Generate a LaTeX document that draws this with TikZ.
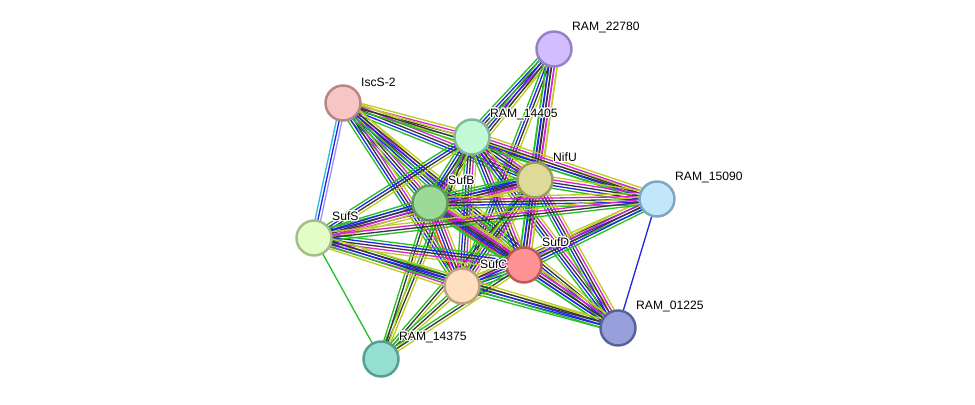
\documentclass[tikz,border=0pt]{standalone}
\usepackage{fontspec}
\setmainfont{Liberation Sans}
\usepackage{xcolor,tikz}
\usepackage[copies]{contour}
\contourlength{0.7pt}
\usetikzlibrary{calc,backgrounds}
\definecolor{cNb}{RGB}{40,190,40}
\definecolor{cFu}{RGB}{240,40,40}
\definecolor{cCo}{RGB}{35,35,235}
\definecolor{cCx}{RGB}{55,55,55}
\definecolor{cEx}{RGB}{215,35,215}
\definecolor{cDb}{RGB}{40,190,225}
\definecolor{cTm}{RGB}{190,205,35}
\definecolor{cHm}{RGB}{150,150,250}
% parallel evidence lines between two proteins: from, to, count, colours
\newcommand{\evlink}[4]{%
  \foreach \c [count=\i] in {#4}{%
    \pgfmathsetmacro{\off}{(\i-(#3+1)/2)*0.056}%
    \draw[evid,color=\c] ($(#1.center)!\off cm!90:(#2.center)$)
      -- ($(#2.center)!\off cm!-90:(#1.center)$);
  }}
\newcommand{\plab}[1]{\contour{white}{#1}}

\begin{document}
\begin{tikzpicture}[x=0.02cm,y=-0.02cm,font=\fontsize{6.9}{8}\selectfont,
  prot/.style={circle,draw,line width=1.4pt,minimum size=0.70cm,inner sep=0},
  lab/.style={anchor=west,inner sep=0.5pt},
  evid/.style={line width=0.75pt}]
\useasboundingbox (0,0) rectangle (975,405);

% ---- proteins
\node[prot,fill={rgb,255:red,210;green,190;blue,255},draw={rgb,255:red,150;green,128;blue,200}] (r22780) at (554,49) {};
\node[prot,fill={rgb,255:red,246;green,198;blue,198},draw={rgb,255:red,184;green,132;blue,132}] (iscs) at (343,103) {};
\node[prot,fill={rgb,255:red,194;green,250;blue,216},draw={rgb,255:red,128;green,186;blue,152}] (r14405) at (472,137) {};
\node[prot,fill={rgb,255:red,222;green,218;blue,152},draw={rgb,255:red,158;green,156;blue,96}] (nifu) at (535,180) {};
\node[prot,fill={rgb,255:red,194;green,230;blue,250},draw={rgb,255:red,124;green,166;blue,194}] (r15090) at (657,199) {};
\node[prot,fill={rgb,255:red,156;green,218;blue,152},draw={rgb,255:red,94;green,156;blue,92}] (sufb) at (430,203) {};
\node[prot,fill={rgb,255:red,226;green,254;blue,198},draw={rgb,255:red,164;green,188;blue,136}] (sufs) at (314,238) {};
\node[prot,fill={rgb,255:red,255;green,146;blue,146},draw={rgb,255:red,190;green,88;blue,88}] (sufd) at (524,265) {};
\node[prot,fill={rgb,255:red,255;green,223;blue,192},draw={rgb,255:red,190;green,160;blue,128}] (sufc) at (462,286) {};
\node[prot,fill={rgb,255:red,152;green,160;blue,220},draw={rgb,255:red,90;green,98;blue,158}] (r01225) at (618,328) {};
\node[prot,fill={rgb,255:red,148;green,222;blue,210},draw={rgb,255:red,84;green,158;blue,146}] (r14375) at (381,359) {};

% ---- labels
\node[lab] (l22780) at (571,28) {\plab{RAM\_22780}};
\node[lab] (liscs) at (360,83) {\plab{IscS-2}};
\node[lab] (l14405) at (489,115) {\plab{RAM\_14405}};
\node[lab] (lnifu) at (552,158) {\plab{NifU}};
\node[lab] (l15090) at (674,178) {\plab{RAM\_15090}};
\node[lab] (lsufb) at (447,181) {\plab{SufB}};
\node[lab] (lsufs) at (331,217) {\plab{SufS}};
\node[lab] (lsufd) at (541,243) {\plab{SufD}};
\node[lab] (lsufc) at (479,265) {\plab{SufC}};
\node[lab] (l01225) at (635,307) {\plab{RAM\_01225}};
\node[lab] (l14375) at (398,338) {\plab{RAM\_14375}};

% ---- evidence lines
\begin{pgfonlayer}{background}
\evlink{r22780}{r14405}{5}{cNb,cCo,cCx,cEx,cTm}
\evlink{r22780}{sufb}{4}{cNb,cCo,cCx,cTm}
\evlink{r22780}{sufc}{4}{cNb,cCo,cCx,cTm}
\evlink{r22780}{nifu}{5}{cNb,cCo,cCx,cEx,cTm}
\evlink{r22780}{sufd}{5}{cNb,cCo,cCx,cEx,cTm}
\evlink{iscs}{sufs}{3}{cDb,cCo,cHm}
\evlink{iscs}{r14405}{4}{cNb,cCx,cEx,cTm}
\evlink{iscs}{nifu}{5}{cNb,cCo,cCx,cEx,cTm}
\evlink{iscs}{r15090}{3}{cNb,cCx,cTm}
\evlink{iscs}{sufb}{5}{cNb,cCo,cCx,cEx,cTm}
\evlink{iscs}{sufc}{5}{cNb,cCo,cCx,cEx,cTm}
\evlink{iscs}{sufd}{5}{cNb,cCo,cCx,cEx,cTm}
\evlink{iscs}{r01225}{4}{cNb,cCo,cCx,cTm}
\evlink{r14405}{sufb}{5}{cNb,cCo,cCx,cEx,cTm}
\evlink{r14405}{sufc}{5}{cNb,cCo,cCx,cEx,cTm}
\evlink{r14405}{sufd}{5}{cNb,cCo,cCx,cEx,cTm}
\evlink{r14405}{nifu}{5}{cNb,cCo,cCx,cEx,cTm}
\evlink{r14405}{sufs}{4}{cNb,cCo,cCx,cTm}
\evlink{r14405}{r15090}{5}{cNb,cCo,cCx,cEx,cTm}
\evlink{r14405}{r01225}{5}{cNb,cCo,cCx,cEx,cTm}
\evlink{r14405}{r14375}{3}{cNb,cCx,cTm}
\evlink{nifu}{sufb}{5}{cNb,cCo,cCx,cEx,cTm}
\evlink{nifu}{sufc}{5}{cNb,cCo,cCx,cEx,cTm}
\evlink{nifu}{sufd}{5}{cNb,cCo,cCx,cEx,cTm}
\evlink{nifu}{sufs}{5}{cNb,cCo,cCx,cEx,cTm}
\evlink{nifu}{r15090}{5}{cNb,cCo,cCx,cEx,cTm}
\evlink{nifu}{r01225}{5}{cNb,cCo,cCx,cEx,cTm}
\evlink{nifu}{r14375}{3}{cNb,cCx,cTm}
\evlink{sufb}{sufc}{6}{cNb,cFu,cCo,cCx,cEx,cTm}
\evlink{sufb}{sufd}{6}{cNb,cFu,cCo,cCx,cEx,cTm}
\evlink{sufb}{sufs}{5}{cNb,cCo,cCx,cEx,cTm}
\evlink{sufb}{r15090}{5}{cNb,cCo,cCx,cEx,cTm}
\evlink{sufb}{r01225}{5}{cNb,cCo,cCx,cEx,cTm}
\evlink{sufb}{r14375}{3}{cNb,cCx,cTm}
\evlink{sufc}{sufd}{5}{cNb,cCo,cCx,cEx,cTm}
\evlink{sufc}{sufs}{5}{cNb,cCo,cCx,cEx,cTm}
\evlink{sufc}{r15090}{4}{cNb,cCo,cCx,cTm}
\evlink{sufc}{r01225}{4}{cNb,cCo,cCx,cTm}
\evlink{sufc}{r14375}{3}{cNb,cCx,cTm}
\evlink{sufd}{sufs}{5}{cNb,cCo,cCx,cEx,cTm}
\evlink{sufd}{r15090}{5}{cNb,cCo,cCx,cEx,cTm}
\evlink{sufd}{r01225}{5}{cNb,cCo,cCx,cEx,cTm}
\evlink{sufd}{r14375}{3}{cNb,cCx,cTm}
\evlink{sufs}{r15090}{4}{cNb,cCx,cEx,cTm}
\evlink{sufs}{r01225}{4}{cNb,cCo,cCx,cTm}
\evlink{sufs}{r14375}{1}{cNb}
\evlink{r15090}{r01225}{1}{cCo}
\end{pgfonlayer}
\end{tikzpicture}
\end{document}
